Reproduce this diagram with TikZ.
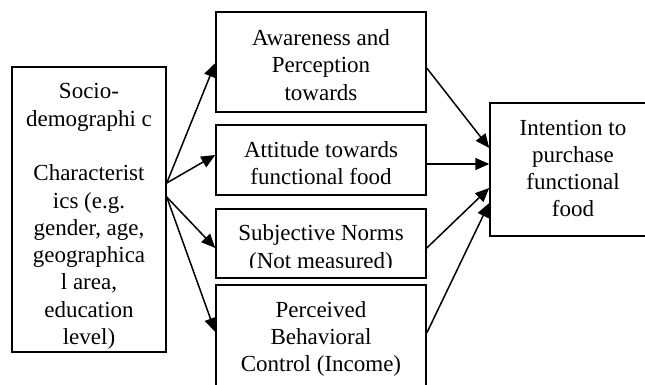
\documentclass[tikz,border=0pt]{standalone}
\usepackage{fontspec}
\setmainfont{Liberation Serif}
\usetikzlibrary{arrows.meta}

\begin{document}
\begin{tikzpicture}[x=1pt,y=-1pt,
    box/.style={draw,line width=1.5pt,inner sep=0pt},
    txt/.style={inner sep=0pt,align=center,font=\fontsize{23}{27.3}\selectfont},
    link/.style={line width=1.5pt,-{Triangle[length=14pt,width=12pt]}}]
        \clip (0,0) rectangle (645,385);

        % Boxes
        \node[box,minimum width=154,minimum height=285] (socio) at (89,209.5) {};
        \node[box,minimum width=210,minimum height=100] (aware) at (321,62) {};
        \node[box,minimum width=210,minimum height=70] (attit) at (321,160) {};
        \node[box,minimum width=210,minimum height=69] (norms) at (321,243.5) {};
        \node[box,minimum width=210,minimum height=102] (percv) at (321,336) {};
        \node[box,minimum width=166,minimum height=133] (intent) at (573,169.5) {};

        % Texts
        \node[txt] (sociotxt) at (89,216.5) {Socio-\\demographi c\\[27.3pt]Characterist\\ics (e.g.\\gender, age,\\geographica\\l area,\\education\\level)};
        \node[txt] (awaretxt) at (321,65) {Awareness and\\Perception\\towards};
        \node[txt] (attittxt) at (321,163) {Attitude towards\\functional food};
        \begin{scope}
            \clip (216,209) rectangle (426,267);
            \node[txt] (normstxt) at (321,249) {Subjective Norms\\(Not measured)};
        \end{scope}
        \node[txt] (percvtxt) at (321,339) {Perceived\\Behavioral\\Control (Income)};
        \node[txt] (intenttxt) at (573,168.5) {Intention to\\purchase\\functional\\food};

        % Arrows
        \draw[link] ([yshift=26.5pt]socio.east) -- ([yshift=-1pt]aware.west);
        \draw[link] ([yshift=26.5pt]socio.east) -- ([yshift=5pt]attit.west);
        \draw[link] ([yshift=12.5pt]socio.east) -- ([yshift=-4.5pt]norms.west);
        \draw[link] ([yshift=12.5pt]socio.east) -- ([yshift=4pt]percv.west);

        \draw[link] ([yshift=-6pt]aware.east) -- ([yshift=21.5pt]intent.west);
        \draw[link] ([yshift=-4pt]attit.east) -- ([yshift=5.5pt]intent.west);
        \draw[link] ([yshift=-4.5pt]norms.east) -- ([yshift=-18.5pt]intent.west);
        \draw[link] ([yshift=3pt]percv.east) -- ([yshift=-33.5pt]intent.west);
    \end{tikzpicture}
\end{document}
